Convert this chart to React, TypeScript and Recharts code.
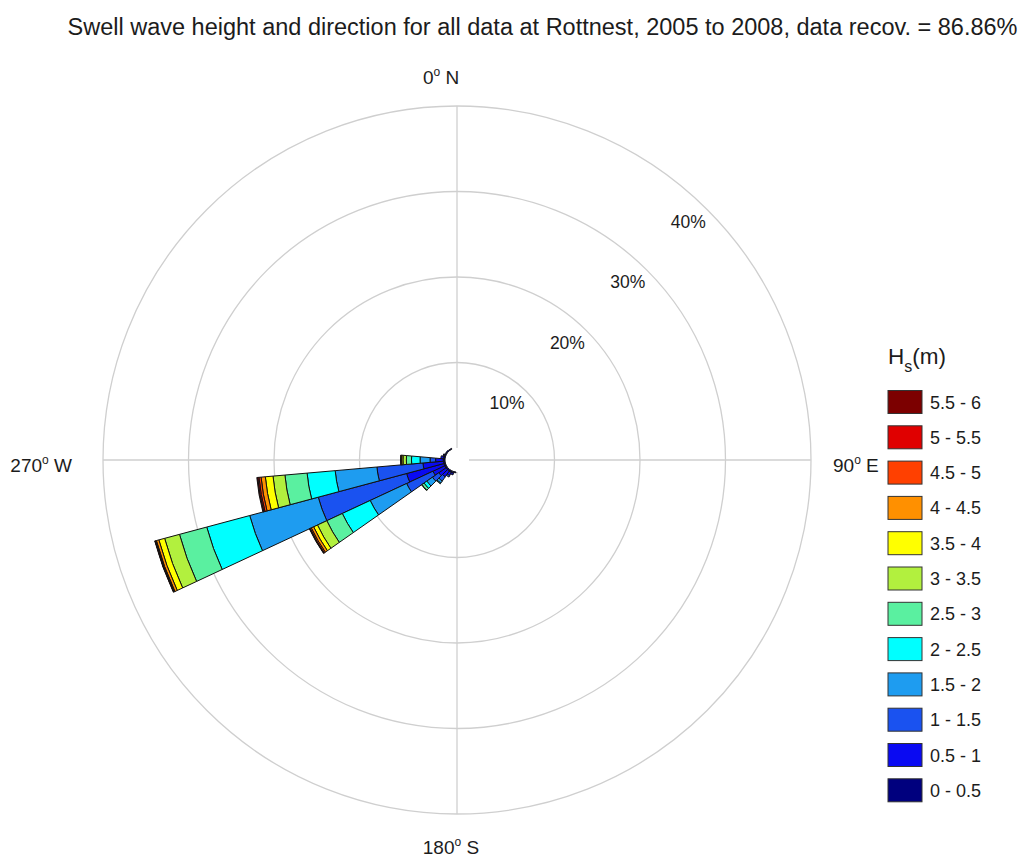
import React from 'react'
import {
  PolarAngleAxis,
  PolarGrid,
  PolarRadiusAxis,
  RadialBar,
  RadialBarChart,
  Sector,
} from 'recharts'

const FONT = '"Liberation Sans", Arial, Helvetica, sans-serif'
const INK = '#1c1c1c'

const TITLE =
  'Swell wave height and direction for all data at Rottnest, 2005 to 2008, data recov. = 86.86%'

// 10 degree direction bins (direction the swell comes from)
const DIRECTIONS = [
  0, 10, 20, 30, 40, 50, 60, 70, 80, 90, 100, 110, 120, 130, 140, 150, 160, 170,
  180, 190, 200, 210, 220, 230, 240, 250, 260, 270, 280, 290, 300, 310, 320, 330, 340, 350,
]

const PERCENT_TICKS = [10, 20, 30, 40]

const HS_BINS = [
  '0 - 0.5', '0.5 - 1', '1 - 1.5', '1.5 - 2', '2 - 2.5', '2.5 - 3',
  '3 - 3.5', '3.5 - 4', '4 - 4.5', '4.5 - 5', '5 - 5.5', '5.5 - 6',
]

const HS_COLORS = [
  '#00007e', '#0a0af2', '#1a52f0', '#1e9cf0', '#00ffff', '#5af0a0',
  '#b2f03e', '#ffff00', '#ff9000', '#ff4000', '#e00000', '#7c0000',
]

// % of records per direction bin, one array per Hs class
//                0  10  20  30  40  50  60  70  80  90 100 110 120 130 140 150 160 170 180  190   200  210  220  230   240   250   260   270  280  290   300   310  320  330 340 350
const HS_0_05  = [0, 0, 0, 0, 0, 0, 0, 0, 0, 0, 0, 0, 0, 0, 0, 0, 0, 0, 0, 0.1, 0.2, 0.2, 0.2, 0.2, 0.2, 0.2, 0.2, 0.2, 0.2, 0.2, 0.15, 0.15, 0.1, 0.1, 0, 0]
const HS_05_1  = [0, 0, 0, 0, 0, 0, 0, 0, 0, 0, 0, 0, 0, 0, 0, 0, 0, 0, 0, 0, 0.2, 0.4, 0.8, 1.0, 1.5, 4.5, 2.4, 0.9, 0.3, 0.1, 0, 0, 0, 0, 0, 0]
const HS_1_15  = [0, 0, 0, 0, 0, 0, 0, 0, 0, 0, 0, 0, 0, 0, 0, 0, 0, 0, 0, 0, 0, 0.2, 0.6, 0.9, 3.4, 10.7, 5.4, 0.65, 0, 0, 0, 0, 0, 0, 0, 0]
const HS_15_2  = [0, 0, 0, 0, 0, 0, 0, 0, 0, 0, 0, 0, 0, 0, 0, 0, 0, 0, 0, 0, 0, 0, 0.3, 0.8, 4.7, 8.3, 4.9, 1.17, 0, 0, 0, 0, 0, 0, 0, 0]
const HS_2_25  = [0, 0, 0, 0, 0, 0, 0, 0, 0, 0, 0, 0, 0, 0, 0, 0, 0, 0, 0, 0, 0, 0, 0.1, 0.4, 3.6, 5.2, 3.3, 1.0, 0, 0, 0, 0, 0, 0, 0, 0]
const HS_25_3  = [0, 0, 0, 0, 0, 0, 0, 0, 0, 0, 0, 0, 0, 0, 0, 0, 0, 0, 0, 0, 0, 0, 0, 0.3, 2.0, 3.3, 2.6, 0.6, 0, 0, 0, 0, 0, 0, 0, 0]
const HS_3_35  = [0, 0, 0, 0, 0, 0, 0, 0, 0, 0, 0, 0, 0, 0, 0, 0, 0, 0, 0, 0, 0, 0, 0, 0.05, 1.2, 1.8, 1.4, 0.4, 0, 0, 0, 0, 0, 0, 0, 0]
const HS_35_4  = [0, 0, 0, 0, 0, 0, 0, 0, 0, 0, 0, 0, 0, 0, 0, 0, 0, 0, 0, 0, 0, 0, 0, 0, 0.5, 0.7, 0.9, 0.15, 0, 0, 0, 0, 0, 0, 0, 0]
const HS_4_45  = [0, 0, 0, 0, 0, 0, 0, 0, 0, 0, 0, 0, 0, 0, 0, 0, 0, 0, 0, 0, 0, 0, 0, 0, 0.3, 0.3, 0.5, 0.08, 0, 0, 0, 0, 0, 0, 0, 0]
const HS_45_5  = [0, 0, 0, 0, 0, 0, 0, 0, 0, 0, 0, 0, 0, 0, 0, 0, 0, 0, 0, 0, 0, 0, 0, 0, 0.15, 0.1, 0.25, 0.05, 0, 0, 0, 0, 0, 0, 0, 0]
const HS_5_55  = [0, 0, 0, 0, 0, 0, 0, 0, 0, 0, 0, 0, 0, 0, 0, 0, 0, 0, 0, 0, 0, 0, 0, 0, 0.05, 0.05, 0.15, 0, 0, 0, 0, 0, 0, 0, 0, 0]
const HS_55_6  = [0, 0, 0, 0, 0, 0, 0, 0, 0, 0, 0, 0, 0, 0, 0, 0, 0, 0, 0, 0, 0, 0, 0, 0, 0.05, 0.05, 0.1, 0, 0, 0, 0, 0, 0, 0, 0, 0]

const HS_VALUES = [
  HS_0_05, HS_05_1, HS_1_15, HS_15_2, HS_2_25, HS_25_3,
  HS_3_35, HS_35_4, HS_4_45, HS_45_5, HS_5_55, HS_55_6,
]

const rows = DIRECTIONS.map((dir, i) => {
  const row: Record<string, number> = { dir }
  HS_VALUES.forEach((vals, b) => {
    row[`hs${b}`] = vals[i]
  })
  return row
})

// angle-axis ticks sit at the start edge of each 10° band, so nudge the
// cardinal labels to where MATLAB put them
const COMPASS: Record<number, { letter: string; anchor: 'start' | 'middle' | 'end'; dx: number; dy: number }> = {
  0: { letter: 'N', anchor: 'middle', dx: -47.5, dy: -15.5 },
  90: { letter: 'E', anchor: 'start', dx: 15.4, dy: -19.5 },
  180: { letter: 'S', anchor: 'middle', dx: 25.5, dy: 33.4 },
  270: { letter: 'W', anchor: 'end', dx: -24.4, dy: 43.5 },
}

// Only the four cardinal points get a label, MATLAB style "0^o N"
function CompassTick(props: any) {
  const { x, y, payload } = props
  const c = COMPASS[payload?.value]
  if (!c) return null
  return (
    <text x={x + c.dx} y={y + c.dy} textAnchor={c.anchor} fontSize={19} fill={INK} fontFamily={FONT}>
      {payload.value}
      <tspan dy={-8} fontSize={12}>o</tspan>
      <tspan dy={8}>{' ' + c.letter}</tspan>
    </text>
  )
}

// Ring labels sit just inside each circle along the NE diagonal
function PercentTick(props: any) {
  const { x, y, payload } = props
  return (
    <text x={x - 19} y={y + 18} textAnchor="middle" fontSize={17.5} fill={INK} fontFamily={FONT}>
      {`${payload.value}%`}
    </text>
  )
}

// skip empty stack segments so they don't leave black arcs round the hub
function WindSector(props: any) {
  if (props.outerRadius - props.innerRadius < 0.05) return null
  return <Sector {...props} />
}

function HsLegend() {
  const items = HS_BINS.map((bin, b) => ({ bin, color: HS_COLORS[b] })).reverse()
  return (
    <svg
      width={1025}
      height={859}
      style={{ position: 'absolute', left: 0, top: 0, pointerEvents: 'none' }}
    >
      <text x={542.5} y={35} textAnchor="middle" fontSize={23.5} fill={INK} fontFamily={FONT}>
        {TITLE}
      </text>
      <text x={888} y={364} fontSize={22.5} fill={INK} fontFamily={FONT}>
        H<tspan dy={8} fontSize={16}>s</tspan>
        <tspan dy={-8}>(m)</tspan>
      </text>
      {items.map((it, i) => (
        <g key={it.bin}>
          <rect x={888} y={390.5 + 35.3 * i} width={34} height={23} fill={it.color} stroke="#333" strokeWidth={1} />
          <text x={930} y={408.5 + 35.3 * i} fontSize={18} fill={INK} fontFamily={FONT}>
            {it.bin}
          </text>
        </g>
      ))}
    </svg>
  )
}

export default function App() {
  return (
    <div
      style={{
        position: 'absolute',
        left: 0,
        top: 0,
        width: 1025,
        height: 859,
        background: '#fff',
        fontFamily: FONT,
      }}
    >
      <RadialBarChart
        width={1025}
        height={859}
        data={rows}
        layout="centric"
        cx={457}
        cy={460}
        innerRadius={12}
        outerRadius={354}
        startAngle={85}
        endAngle={-275}
        barCategoryGap={0}
        barGap={0}
        margin={{ top: 0, right: 0, bottom: 0, left: 0 }}
      >
        <PolarGrid gridType="circle" polarAngles={[90, 0, -90, 180]} stroke="#cfcfcf" strokeWidth={1.3} />
        <PolarAngleAxis type="category" dataKey="dir" axisLine={false} tickLine={false} tick={CompassTick} />
        <PolarRadiusAxis
          type="number"
          angle={45}
          domain={[0, 40]}
          ticks={PERCENT_TICKS}
          axisLine={false}
          tickLine={false}
          tick={PercentTick}
        />
        {HS_BINS.map((bin, b) => (
          <RadialBar
            key={bin}
            name={bin}
            dataKey={`hs${b}`}
            stackId="hs"
            fill={HS_COLORS[b]}
            stroke="#111"
            strokeWidth={1}
            shape={WindSector}
            isAnimationActive={false}
          />
        ))}
      </RadialBarChart>
      <HsLegend />
    </div>
  )
}
